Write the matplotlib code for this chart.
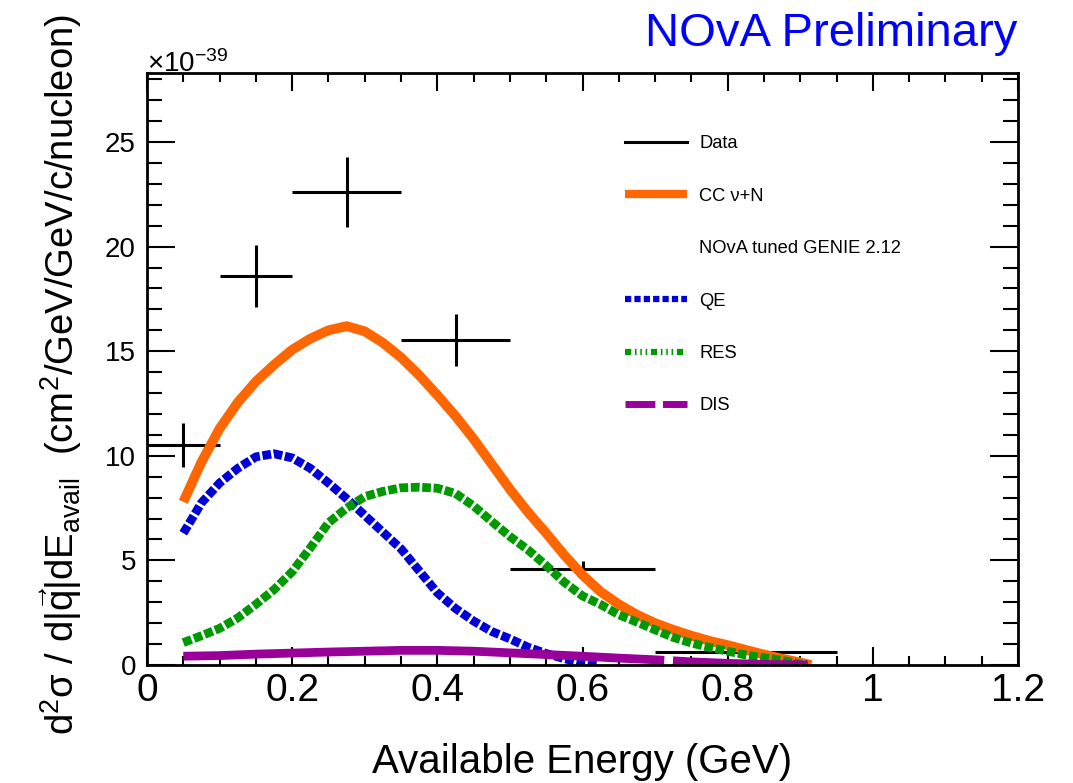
import matplotlib
matplotlib.use("Agg")
import matplotlib.pyplot as plt
from matplotlib.lines import Line2D
from matplotlib.ticker import MultipleLocator

plt.rcParams["font.family"] = ["Liberation Sans", "DejaVu Sans"]
plt.rcParams["mathtext.fontset"] = "custom"
plt.rcParams["mathtext.rm"] = "Liberation Sans"
plt.rcParams["mathtext.it"] = "Liberation Sans:italic"
plt.rcParams["mathtext.bf"] = "Liberation Sans:bold"
plt.rcParams["mathtext.sf"] = "Liberation Sans"

# ---- measured cross section (units of 1e-39) ----
data_x = [0.05, 0.15, 0.275, 0.425, 0.60, 0.825]
data_lo = [0.00, 0.10, 0.20, 0.35, 0.50, 0.70]
data_hi = [0.10, 0.20, 0.35, 0.50, 0.70, 0.95]
data_y = [10.5, 18.6, 22.6, 15.55, 4.6, 0.62]
data_err = [1.05, 1.5, 1.68, 1.25, 0.35, 0.05]

# ---- GENIE prediction ----
total_x = [0.05, 0.075, 0.10, 0.125, 0.15, 0.175, 0.20, 0.225, 0.25, 0.275,
           0.30, 0.325, 0.35, 0.375, 0.40, 0.425, 0.45, 0.475, 0.50, 0.525,
           0.55, 0.575, 0.60, 0.625, 0.65, 0.675, 0.70, 0.725, 0.75, 0.775,
           0.80, 0.825, 0.85, 0.875, 0.90, 0.915]
total_y = [7.8, 9.7, 11.3, 12.55, 13.55, 14.35, 15.07, 15.6, 16.0, 16.2,
           15.95, 15.4, 14.7, 13.85, 12.9, 11.9, 10.8, 9.6, 8.4, 7.3,
           6.3, 5.25, 4.3, 3.5, 2.9, 2.4, 2.0, 1.68, 1.4, 1.15,
           0.95, 0.72, 0.5, 0.3, 0.12, 0.0]

qe_x = [0.05, 0.075, 0.10, 0.125, 0.15, 0.175, 0.20, 0.225, 0.25, 0.275,
        0.30, 0.325, 0.35, 0.375, 0.40, 0.425, 0.45, 0.475, 0.50, 0.525,
        0.55, 0.575, 0.60, 0.62]
qe_y = [6.3, 7.75, 8.7, 9.4, 9.95, 10.1, 9.9, 9.4, 8.7, 7.95,
        7.15, 6.35, 5.55, 4.5, 3.45, 2.7, 2.1, 1.6, 1.25, 0.85,
        0.55, 0.3, 0.1, 0.0]

res_x = [0.05, 0.075, 0.10, 0.125, 0.15, 0.175, 0.20, 0.225, 0.25, 0.275,
         0.30, 0.325, 0.35, 0.375, 0.40, 0.425, 0.45, 0.475, 0.50, 0.525,
         0.55, 0.575, 0.60, 0.625, 0.65, 0.675, 0.70, 0.725, 0.75, 0.775,
         0.80, 0.825, 0.85, 0.875, 0.90, 0.91]
res_y = [1.07, 1.4, 1.75, 2.25, 2.9, 3.6, 4.46, 5.6, 6.8, 7.5,
         8.05, 8.3, 8.47, 8.5, 8.45, 8.2, 7.6, 6.86, 6.14, 5.5,
         4.75, 3.95, 3.3, 2.89, 2.4, 2.05, 1.68, 1.32, 1.05, 0.84,
         0.66, 0.48, 0.35, 0.22, 0.05, 0.0]

dis_x = [0.05, 0.10, 0.15, 0.20, 0.25, 0.30, 0.35, 0.40, 0.45, 0.50,
         0.55, 0.60, 0.65, 0.70, 0.75, 0.80, 0.85, 0.91]
dis_y = [0.42, 0.45, 0.52, 0.57, 0.62, 0.66, 0.70, 0.70, 0.66, 0.58,
         0.50, 0.42, 0.33, 0.25, 0.15, 0.08, 0.03, 0.0]

C_TOT = "#ff6600"
C_QE = "#0000d6"
C_RES = "#009a00"
C_DIS = "#990099"

fig = plt.figure(figsize=(10.73, 7.83), dpi=100)
ax = fig.add_axes([0.137, 0.1507, 0.8118, 0.7561])

# data drawn first so the prediction curves sit on top of it
xerr = [[c - lo for c, lo in zip(data_x, data_lo)],
        [hi - c for c, hi in zip(data_x, data_hi)]]
ax.errorbar(data_x, data_y, xerr=xerr, yerr=data_err, fmt="none",
            ecolor="black", elinewidth=2.2, capsize=0, zorder=1.5)

ax.plot(total_x, total_y, color=C_TOT, lw=7, solid_capstyle="butt",
        solid_joinstyle="round", zorder=2)
ax.plot(qe_x, qe_y, color=C_QE, lw=6.3, dashes=(1, 0.3), zorder=2.1)
ax.plot(res_x, res_y, color=C_RES, lw=6.3, dashes=(1, 0.3), zorder=2.2)
ax.plot(dis_x, dis_y, color=C_DIS, lw=6.3, dashes=(55, 1),
        solid_capstyle="butt", zorder=2.3)

ax.set_xlim(0, 1.2)
ax.set_ylim(0, 28.3)
ax.xaxis.set_major_locator(MultipleLocator(0.2))
ax.xaxis.set_minor_locator(MultipleLocator(0.05))
ax.yaxis.set_major_locator(MultipleLocator(5))
ax.yaxis.set_minor_locator(MultipleLocator(1))
ax.set_xticks([0, 0.2, 0.4, 0.6, 0.8, 1.0, 1.2])
ax.set_xticklabels(["0", "0.2", "0.4", "0.6", "0.8", "1", "1.2"])
ax.tick_params(axis="both", which="both", direction="in", top=True, right=True,
               width=1.5, colors="black")
ax.tick_params(axis="x", which="major", length=13, labelsize=28, pad=6)
ax.tick_params(axis="x", which="minor", length=6.5)
ax.tick_params(axis="y", which="major", length=20, labelsize=20, pad=8)
ax.tick_params(axis="y", which="minor", length=10.5)
for s in ax.spines.values():
    s.set_linewidth(2)

ax.set_xlabel("Available Energy (GeV)", fontsize=29, labelpad=24)
ax.set_ylabel(r"d$^{2}$σ / d$|\vec{\mathrm{q}}|$dE$_{\mathrm{avail}}$  "
              r"(cm$^{2}$/GeV/GeV/c/nucleon)", fontsize=27.5, labelpad=8)
ax.yaxis.set_label_coords(-0.072, 0.49)

fig.text(0.137, 0.908, r"$\times10^{-39}$", fontsize=20, ha="left", va="baseline")
fig.text(0.948, 0.941, "NOvA Preliminary", fontsize=34, color="#0000ff",
         ha="right", va="baseline")

handles = [
    Line2D([], [], color="black", lw=2.2),
    Line2D([], [], color=C_TOT, lw=6, solid_capstyle="butt"),
    Line2D([], [], color="none", lw=0),
    Line2D([], [], color=C_QE, lw=4.5, dashes=(1, 0.5)),
    Line2D([], [], color=C_RES, lw=4.5,
           dashes=(1, 0.6, 0.25, 0.6, 0.25, 0.6, 0.25, 0.6)),
    Line2D([], [], color=C_DIS, lw=5, dashes=(4.3, 1.1)),
]
labels = ["Data", "CC ν+N", "NOvA tuned GENIE 2.12", "QE", "RES", "DIS"]
ax.legend(handles, labels, loc="upper left", bbox_to_anchor=(0.5825, 0.827),
          bbox_transform=fig.transFigure, frameon=False, fontsize=13.2,
          handlelength=3.4, handletextpad=0.65, labelspacing=1.93,
          borderpad=0, borderaxespad=0)

fig.savefig("out.png", dpi=100, facecolor="white")
